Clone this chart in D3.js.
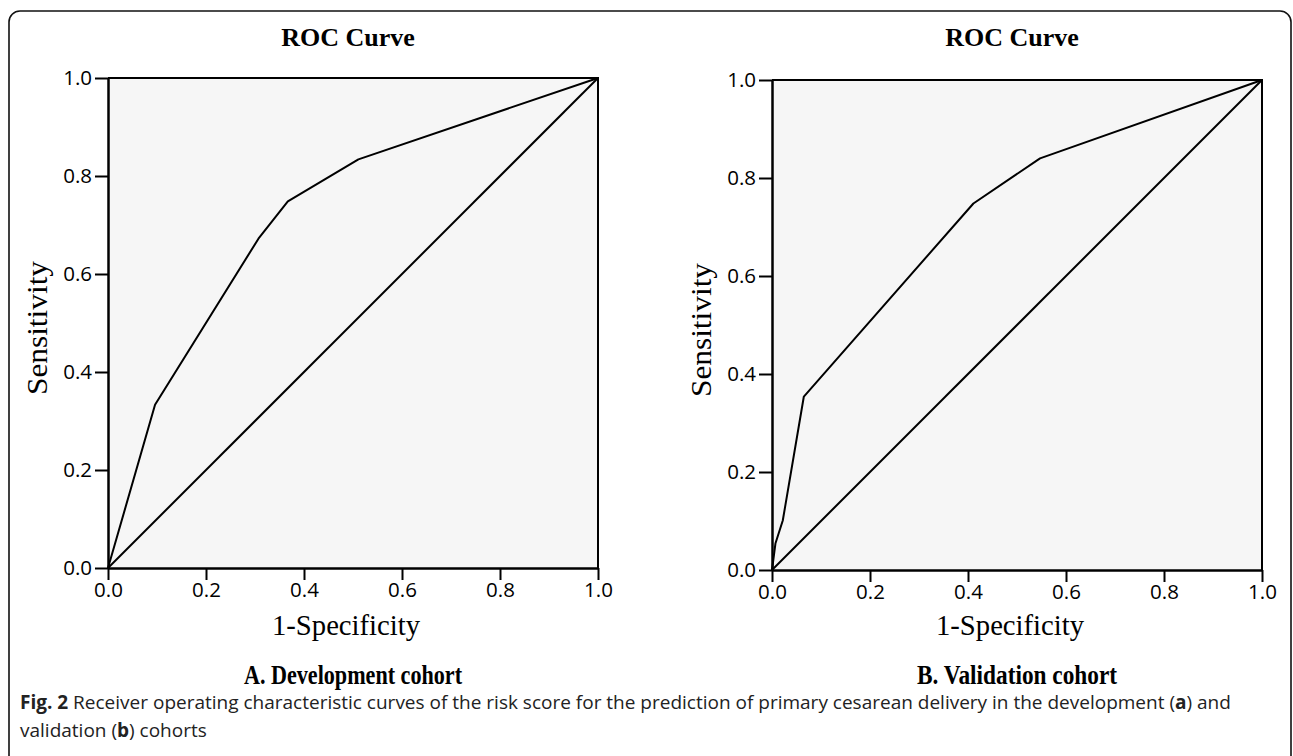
<!DOCTYPE html>
<html>
<head>
<meta charset="utf-8">
<script src="https://cdn.jsdelivr.net/npm/d3@7"></script>
<style>
    body { margin: 0; background: #fff; }
    svg { display: block; }
</style>
</head>
<body>
<div id="fig"></div>
<script>
// ROC data
const devFpr = [0, 0.096, 0.307, 0.367, 0.511, 1];
const devTpr = [0, 0.333, 0.672, 0.748, 0.834, 1];
const valFpr = [0, 0.007, 0.022, 0.065, 0.411, 0.547, 1];
const valTpr = [0, 0.054, 0.101, 0.354, 0.748, 0.840, 1];
const refLine = [0, 1];
const tickValues = [0, 0.2, 0.4, 0.6, 0.8, 1.0];
const panelTitles = ["A. Development cohort", "B. Validation cohort"];

const width = 1293, height = 756;
const serif = "'Liberation Serif', 'DejaVu Serif', serif";
const sans = "'Open Sans', 'Noto Sans', sans-serif";

const svg = d3.select("#fig").append("svg")
    .attr("width", width)
    .attr("height", height);

// rounded frame round the whole figure (bottom runs off the page)
svg.append("rect")
    .attr("x", 9).attr("y", 11)
    .attr("width", 1282).attr("height", 800)
    .attr("rx", 11)
    .attr("fill", "none")
    .attr("stroke", "#111")
    .attr("stroke-width", 1.6);

const panels = [
    {left: 108, top: 78, fpr: devFpr, tpr: devTpr, title: panelTitles[0], titleW: 218},
    {left: 772, top: 80, fpr: valFpr, tpr: valTpr, title: panelTitles[1], titleW: 200}
];

panels.forEach(p => drawPanel(p));

function drawPanel(p) {
    const size = 490;
    const x = d3.scaleLinear().domain([0, 1]).range([p.left, p.left + size]);
    const y = d3.scaleLinear().domain([0, 1]).range([p.top + size, p.top]);
    const cx = p.left + size / 2;

    const g = svg.append("g");

    g.append("rect")
        .attr("x", x(0)).attr("y", y(1))
        .attr("width", x(1) - x(0)).attr("height", y(0) - y(1))
        .attr("fill", "#f6f6f6");

    // top and right frame
    g.append("path")
        .attr("d", `M${x(0)},${y(1)}H${x(1)}V${y(0)}`)
        .attr("fill", "none")
        .attr("stroke", "#000")
        .attr("stroke-width", 2);

    const line = d3.line().x(d => x(d[0])).y(d => y(d[1]));

    g.append("path")
        .datum(refLine.map(v => [v, v]))
        .attr("d", line)
        .attr("fill", "none")
        .attr("stroke", "#000")
        .attr("stroke-width", 2);

    g.append("path")
        .datum(p.fpr.map((f, i) => [f, p.tpr[i]]))
        .attr("d", line)
        .attr("fill", "none")
        .attr("stroke", "#000")
        .attr("stroke-width", 2)
        .attr("stroke-linejoin", "round");

    const xAxis = g.append("g")
        .attr("transform", `translate(0,${y(0)})`)
        .call(d3.axisBottom(x).tickValues(tickValues).tickFormat(d3.format(".1f"))
            .tickSize(12).tickSizeOuter(0).tickPadding(2));

    const yAxis = g.append("g")
        .attr("transform", `translate(${x(0)},0)`)
        .call(d3.axisLeft(y).tickValues(tickValues).tickFormat(d3.format(".1f"))
            .tickSize(13).tickSizeOuter(0).tickPadding(3));

    [xAxis, yAxis].forEach(a => {
        a.select(".domain").attr("stroke", "#000").attr("stroke-width", 2.5);
        a.selectAll(".tick line").attr("stroke", "#000").attr("stroke-width", 2);
        a.selectAll(".tick text")
            .attr("fill", "#000")
            .style("font-family", sans)
            .style("font-size", "20.5px");
    });

    g.append("text")
        .attr("x", cx - 5).attr("y", 46)
        .attr("text-anchor", "middle")
        .style("font-family", serif)
        .style("font-weight", "bold")
        .style("font-size", "26px")
        .text("ROC Curve");

    g.append("text")
        .attr("x", cx - 7).attr("y", 635)
        .attr("text-anchor", "middle")
        .attr("textLength", 148)
        .attr("lengthAdjust", "spacingAndGlyphs")
        .style("font-family", serif)
        .style("font-size", "29px")
        .text("1-Specificity");

    g.append("text")
        .attr("transform", `translate(${p.left - 61},${p.top + size / 2 + 5}) rotate(-90)`)
        .attr("text-anchor", "middle")
        .attr("textLength", 134)
        .attr("lengthAdjust", "spacingAndGlyphs")
        .style("font-family", serif)
        .style("font-size", "29px")
        .text("Sensitivity");

    g.append("text")
        .attr("x", cx).attr("y", 684)
        .attr("text-anchor", "middle")
        .attr("textLength", p.titleW)
        .attr("lengthAdjust", "spacingAndGlyphs")
        .style("font-family", serif)
        .style("font-weight", "bold")
        .style("font-size", "27px")
        .text(p.title);
}

// caption, font size fitted so line 1 spans the width seen in the figure
function captionLine(yPos, parts) {
    const t = svg.append("text")
        .attr("x", 20).attr("y", yPos)
        .style("font-family", sans)
        .style("font-size", "18px")
        .attr("fill", "#222");
    parts.forEach(([txt, bold]) => {
        t.append("tspan").style("font-weight", bold ? "bold" : "normal").text(txt);
    });
    return t;
}

const cap1 = captionLine(709, [
    ["Fig. 2", true],
    [" Receiver operating characteristic curves of the risk score for the prediction of primary cesarean delivery in the development (", false],
    ["a", true],
    [") and", false]
]);
const cap2 = captionLine(737, [
    ["validation (", false],
    ["b", true],
    [") cohorts", false]
]);

const fitSize = 18 * 1212 / cap1.node().getComputedTextLength();
cap1.style("font-size", fitSize + "px");
cap2.style("font-size", fitSize + "px");
</script>
</body>
</html>
